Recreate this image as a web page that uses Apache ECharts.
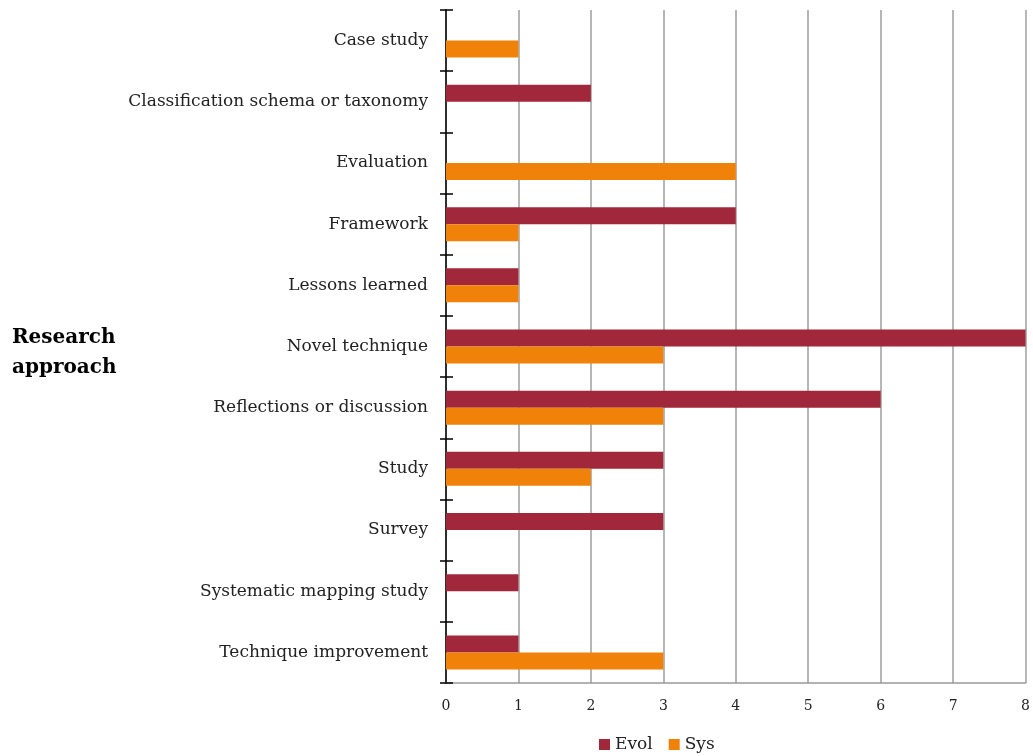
<!DOCTYPE html>
<html><head><meta charset="utf-8">
<script src="https://cdn.jsdelivr.net/npm/echarts@6/dist/echarts.min.js"></script>
<style>html,body{margin:0;padding:0;background:#fff}#c{width:1033px;height:756px}</style>
</head><body><div id="c"></div>
<script>
const categories = ["Case study","Classification schema or taxonomy","Evaluation","Framework","Lessons learned","Novel technique","Reflections or discussion","Study","Survey","Systematic mapping study","Technique improvement"];
const evol = [0,2,0,4,1,8,6,3,3,1,1];
const sys = [1,0,4,1,1,3,3,2,0,0,3];
const xTicks = [0,1,2,3,4,5,6,7,8];
const axisTitle = "Research\napproach";

const F = '"DejaVu Serif","Liberation Serif",serif';
const chart = echarts.init(document.getElementById('c'), null, {renderer:'canvas'});
chart.setOption({
  animation:false,
  backgroundColor:'#fff',
  grid:{left:446,right:5,top:10,bottom:73,containLabel:false},
  legend:{
    data:['Evol','Sys'], top:731, left:594,
    icon:'rect', itemWidth:11, itemHeight:11, itemGap:16,
    textStyle:{fontFamily:F,fontSize:17,color:'#222'}
  },
  xAxis:{
    type:'value', min:xTicks[0], max:xTicks[xTicks.length-1], interval:1,
    axisLine:{show:true,lineStyle:{color:'#999',width:1.5}},
    axisTick:{show:false},
    axisLabel:{fontFamily:F,fontSize:14,color:'#222',margin:16},
    splitLine:{show:true,lineStyle:{color:'#9e9e9e',width:1.5}}
  },
  yAxis:[{
    type:'category', data:categories, inverse:true,
    axisLine:{show:true,onZero:false,lineStyle:{color:'#000',width:1.5}},
    axisTick:{show:true,length:6,lineStyle:{color:'#000',width:1.5}},
    axisLabel:{fontFamily:F,fontSize:17,color:'#222',margin:18},
    splitLine:{show:false}
  },{
    type:'category', data:categories, inverse:true, position:'left',
    axisLine:{show:false},
    axisTick:{show:true,inside:true,length:7,lineStyle:{color:'#000',width:1.5}},
    axisLabel:{show:false}, splitLine:{show:false}
  }],
  graphic:[{
    type:'text', left:12, top:323,
    style:{text:axisTitle, font:'bold 20px '+F, fill:'#000', lineHeight:30}
  }],
  series:[
    {name:'Evol',type:'bar',data:evol,barWidth:17,barGap:'0%',itemStyle:{color:'#A0283A'}},
    {name:'Sys',type:'bar',data:sys,barWidth:17,barGap:'0%',itemStyle:{color:'#F0820A'}}
  ]
});
</script></body></html>
